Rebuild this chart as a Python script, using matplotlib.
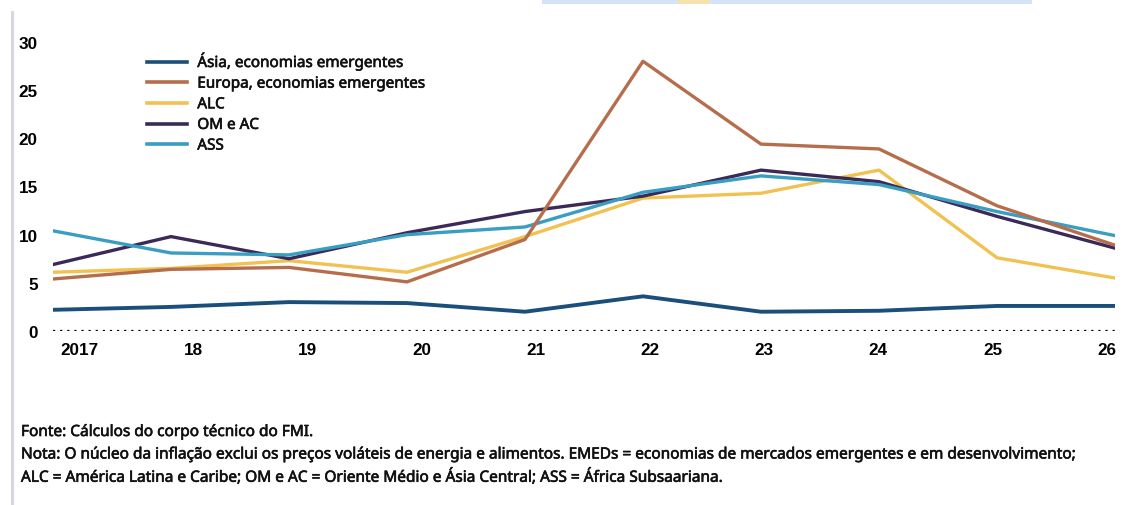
import numpy as np
import matplotlib
matplotlib.use("Agg")
import matplotlib.pyplot as plt
import matplotlib.patheffects as pe
from matplotlib.patches import Rectangle
from matplotlib.lines import Line2D

# Core inflation by region, percent
years = ["2017", "18", "19", "20", "21", "22", "23", "24", "25", "26"]
series_names = ["Ásia, economias emergentes", "Europa, economias emergentes",
                "ALC", "OM e AC", "ASS"]
asia = [2.2, 2.5, 3.0, 2.9, 2.0, 3.6, 2.0, 2.1, 2.6, 2.6]
europa = [5.4, 6.4, 6.6, 5.1, 9.5, 28.0, 19.4, 18.9, 13.0, 8.9]
alc = [6.1, 6.5, 7.3, 6.1, 9.8, 13.8, 14.3, 16.7, 7.6, 5.5]
om_ac = [6.9, 9.8, 7.5, 10.2, 12.4, 14.0, 16.7, 15.5, 11.9, 8.6]
ass = [10.4, 8.1, 7.9, 10.0, 10.8, 14.4, 16.1, 15.2, 12.4, 9.9]
y_ticks = [0, 5, 10, 15, 20, 25, 30]

colors = {
    "asia": "#1b4f7b",
    "europa": "#b66d4c",
    "alc": "#f1c252",
    "om": "#3b2a58",
    "ass": "#3a9dc2",
}

W, H = 1127, 506
fig = plt.figure(figsize=(W / 100, H / 100), dpi=100)
fig.patch.set_facecolor("white")
renderer = fig.canvas.get_renderer()


def fit_size(text_artist, target_px):
    """Rescale a text so that its rendered width is target_px."""
    w = text_artist.get_window_extent(renderer).width
    text_artist.set_fontsize(text_artist.get_fontsize() * target_px / w)


# slightly heavier strokes for the legend and note text
medium = [pe.withStroke(linewidth=0.45, foreground="#111111")]

ax = fig.add_axes([53 / W, 1 - 332 / H, (1115 - 53) / W, (332 - 43) / H])
x = np.arange(len(years))

lw = 2.4
# drawing order, bottom to top
l_alc, = ax.plot(x, alc, color=colors["alc"], lw=lw, zorder=3)
l_om, = ax.plot(x, om_ac, color=colors["om"], lw=lw, zorder=4)
l_ass, = ax.plot(x, ass, color=colors["ass"], lw=lw, zorder=5)
l_eur, = ax.plot(x, europa, color=colors["europa"], lw=lw, zorder=6)
l_asia, = ax.plot(x, asia, color=colors["asia"], lw=lw + 0.4, zorder=7)

# dotted zero line
ax.axhline(0, color="black", lw=1.6, ls=(0, (1, 2.2)), zorder=2)

ax.set_xlim(0, len(years) - 1)
ax.set_ylim(0, 30)
for s in ax.spines.values():
    s.set_visible(False)

tick_font = dict(family="Liberation Sans", weight="bold", size=12.3)
ax.set_yticks(y_ticks)
ax.set_yticklabels([str(v) for v in y_ticks], **tick_font)
ax.tick_params(axis="y", length=0, pad=11, colors="black")

# year labels spread evenly below the axis
label_pos = np.linspace(0.22, 8.93, len(years))
ax.set_xticks(label_pos)
ax.set_xticklabels(years, **tick_font)
ax.tick_params(axis="x", length=0, pad=8, colors="black")

# legend text size fitted to the width of the first entry
probe = fig.text(0, 0, series_names[0], family="Noto Sans", size=10)
fit_size(probe, 206)
legend_size = probe.get_fontsize()
probe.remove()

legend_font = dict(family="Noto Sans", size=legend_size)
handles = [l_asia, l_eur, l_alc, l_om, l_ass]
handles = [Line2D([], [], color=h.get_color(), lw=2.6) for h in handles]
leg = fig.legend(handles, series_names, loc="upper left",
                 bbox_to_anchor=(147 / W, 1 - 54 / H),
                 frameon=False, borderpad=0, borderaxespad=0,
                 handlelength=2.6, handletextpad=0.7, labelspacing=0.37,
                 prop=legend_font)
for t in leg.get_texts():
    t.set_color("#111111")
    t.set_path_effects(medium)

# notes below the chart
notes = [
    "Fonte: Cálculos do corpo técnico do FMI.",
    "Nota: O núcleo da inflação exclui os preços voláteis de energia e alimentos. "
    "EMEDs = economias de mercados emergentes e em desenvolvimento;",
    "ALC = América Latina e Caribe; OM e AC = Oriente Médio e Ásia Central; "
    "ASS = África Subsaariana.",
]
note_texts = [
    fig.text(21 / W, 1 - (433 + i * 22.5) / H, line, ha="left", va="center",
             family="Noto Sans", size=10, color="#111111", path_effects=medium)
    for i, line in enumerate(notes)
]
fit_size(note_texts[1], 1055)
for t in note_texts:
    t.set_fontsize(note_texts[1].get_fontsize())

# page edge and header strip
fig.add_artist(Line2D([12 / W, 12 / W], [0, 1 - 13 / H], transform=fig.transFigure,
                      color="#d6d8de", lw=2.2))
fig.add_artist(Rectangle((542 / W, 1 - 5 / H), (1032 - 542) / W, 5 / H,
                         transform=fig.transFigure, color="#d4e3f6", lw=0))
fig.add_artist(Rectangle((678 / W, 1 - 5 / H), (710 - 678) / W, 5 / H,
                         transform=fig.transFigure, color="#f5e2ae", lw=0))

fig.savefig("out.png", dpi=100, facecolor="white")
